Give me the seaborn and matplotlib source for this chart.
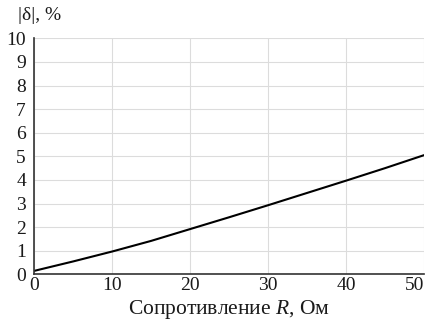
import matplotlib
matplotlib.use("Agg")
import matplotlib.pyplot as plt
import seaborn as sns
import pandas as pd

resistance = [0, 5, 10, 15, 20, 25, 30, 35, 40, 45, 50]
delta_pct = [0.15, 0.55, 0.97, 1.42, 1.92, 2.42, 2.93, 3.45, 3.97, 4.5, 5.05]
x_ticks = [0, 10, 20, 30, 40, 50]
y_ticks = list(range(0, 11))

sns.set_theme(style="white")
plt.rcParams['font.family'] = ['Liberation Serif', 'DejaVu Serif']
plt.rcParams['mathtext.fontset'] = 'custom'
plt.rcParams['mathtext.it'] = 'Liberation Serif:italic'
plt.rcParams['mathtext.rm'] = 'Liberation Serif'

df = pd.DataFrame({"R": resistance, "d": delta_pct})

fig = plt.figure(figsize=(4.25, 3.23), dpi=100)
ax = fig.add_axes([0.0807, 0.1505, 0.9169, 0.7309])
sns.lineplot(data=df, x="R", y="d", ax=ax, color="black", linewidth=1.5)

ax.set_xlim(0, 50)
ax.set_ylim(0, 10)
ax.set_xticks(x_ticks)
ax.set_yticks(y_ticks)
ax.tick_params(axis='both', length=0, labelsize=14, colors='#1a1a1a')
ax.tick_params(axis='y', pad=6)
ax.tick_params(axis='x', pad=2)
xt = ax.get_xticklabels()
xt[-1].set_horizontalalignment('right')
ax.grid(True, color='#dcdcdc', linewidth=0.8)
for s in ['top', 'right']:
    ax.spines[s].set_visible(False)
for s in ['left', 'bottom']:
    ax.spines[s].set_color('#333333')
    ax.spines[s].set_linewidth(1.2)

ax.set_xlabel(r"Сопротивление $R$, Ом", fontsize=15.5, color='#1a1a1a', labelpad=3)
ax.set_ylabel("")
fig.text(18/425, 1 - 16/323, "|δ|, %", fontsize=14, color='#1a1a1a', va='center', ha='left')

fig.savefig("out.png", dpi=100)
